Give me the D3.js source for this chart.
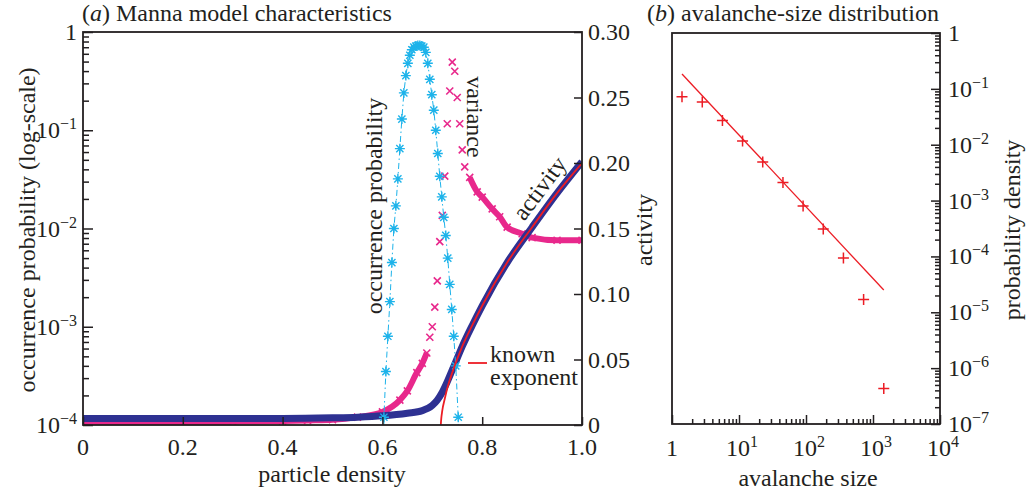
<!DOCTYPE html>
<html>
<head>
<meta charset="utf-8">
<script src="https://cdnjs.cloudflare.com/ajax/libs/d3/7.8.5/d3.min.js"></script>
<style>
  body { margin: 0; background: #fff; }
  svg text { font-family: "Liberation Serif", "DejaVu Serif", serif; font-size: 24px; fill: #231f20; }
  .tick line { stroke: #231f20; stroke-width: 1.5; }
  .frame { fill: none; stroke: #231f20; stroke-width: 1.8; }
</style>
</head>
<body>
<script>
// (a) Manna model: activity + variance on right axis, occurrence probability on log left axis
var activityRho = [0, 0.1, 0.2, 0.3, 0.4, 0.5, 0.55, 0.6, 0.65, 0.68, 0.7, 0.71, 0.72, 0.73, 0.74, 0.75, 0.76, 0.78, 0.8, 0.85, 0.9, 0.95, 1.0];
var activity = [0.005, 0.005, 0.005, 0.005, 0.005, 0.0055, 0.006, 0.007, 0.009, 0.011, 0.015, 0.019, 0.025, 0.033, 0.042, 0.051, 0.060, 0.076, 0.091, 0.124, 0.151, 0.177, 0.201];

var varianceRho = [0, 0.1, 0.2, 0.3, 0.4, 0.45, 0.5, 0.55, 0.6, 0.635, 0.65, 0.669, 0.68, 0.689, 0.695, 0.70, 0.705, 0.71, 0.715, 0.72, 0.725, 0.73, 0.735, 0.74, 0.745, 0.75, 0.755, 0.76, 0.765, 0.775, 0.79, 0.80, 0.82, 0.835, 0.85, 0.88, 0.9, 0.95, 1.0];
var variance = [0.002, 0.002, 0.002, 0.0025, 0.003, 0.0035, 0.004, 0.006, 0.010, 0.019, 0.026, 0.040, 0.047, 0.055, 0.067, 0.075, 0.09, 0.11, 0.14, 0.16, 0.19, 0.23, 0.255, 0.277, 0.27, 0.25, 0.23, 0.21, 0.197, 0.189, 0.178, 0.174, 0.165, 0.159, 0.151, 0.146, 0.143, 0.141, 0.141];

var occurrenceRho = [0.603, 0.607, 0.611, 0.615, 0.619, 0.623, 0.627, 0.631, 0.635, 0.639, 0.643, 0.647, 0.651, 0.655, 0.659, 0.663, 0.667, 0.671, 0.675, 0.679, 0.683, 0.687, 0.691, 0.695, 0.699, 0.703, 0.707, 0.711, 0.715, 0.719, 0.723, 0.727, 0.731, 0.735, 0.739, 0.743, 0.747, 0.752];
var occurrence = [1.2e-4, 3.5e-4, 8e-4, 1.8e-3, 4.5e-3, 0.010, 0.017, 0.032, 0.065, 0.13, 0.24, 0.36, 0.48, 0.58, 0.66, 0.70, 0.72, 0.73, 0.73, 0.72, 0.70, 0.62, 0.48, 0.33, 0.23, 0.16, 0.10, 0.058, 0.034, 0.021, 0.013, 0.0085, 0.0050, 0.0027, 0.0015, 0.0008, 0.0004, 0.00012];

var knownRho = [0.717, 0.718, 0.72, 0.725, 0.73, 0.74, 0.76, 0.78, 0.8, 0.85, 0.9, 0.95, 1.0];
var knownActivity = [0, 0.005, 0.011, 0.020, 0.028, 0.040, 0.060, 0.076, 0.091, 0.124, 0.151, 0.177, 0.200];

var rhoTicks = [0, 0.2, 0.4, 0.6, 0.8, 1.0];
var rhoLabels = ["0", "0.2", "0.4", "0.6", "0.8", "1.0"];
var activityTicks = [0, 0.05, 0.10, 0.15, 0.20, 0.25, 0.30];
var activityLabels = ["0", "0.05", "0.10", "0.15", "0.20", "0.25", "0.30"];

// (b) avalanche-size distribution
var sizes = [1.41, 2.83, 5.66, 11.3, 22.6, 45.3, 90.5, 181, 362, 724, 1448];
var sizeDensity = [0.072, 0.058, 0.027, 0.0117, 0.0049, 0.0021, 8.0e-4, 3.1e-4, 9.4e-5, 1.7e-5, 4.3e-7];
var fitSize = [1.41, 1448];
var fitDensity = [0.185, 2.5e-5];

var navy = "#2e3192", pink = "#e8288c", cyan = "#1db3ea", red = "#ec1c24";

var svg = d3.select("body").append("svg")
  .attr("width", 1029)
  .attr("height", 493)
  .attr("font-family", "'Liberation Serif', 'DejaVu Serif', serif");

var x = d3.scaleLinear().domain([0, 1]).range([83, 582]);
var yLog = d3.scaleLog().domain([1e-4, 1]).range([425, 32]);
var yAct = d3.scaleLinear().domain([0, 0.3]).range([425, 32]);

var xs = d3.scaleLog().domain([1, 1e4]).range([672, 940]);
var ys = d3.scaleLog().domain([1e-7, 1]).range([424, 33]);

function isMajor(d) {
  var l = Math.log10(d);
  return Math.abs(l - Math.round(l)) < 1e-6;
}

// power-of-ten label with superscript
function powLabel(sel, k) {
  if (k === 0) { sel.text("1"); return; }
  sel.append("tspan").text("10");
  sel.append("tspan").attr("font-size", "16px").attr("dy", -9).text(k < 0 ? "\u2212" + (-k) : k);
}

// ---------- panel a ----------
svg.append("clipPath").attr("id", "clipA")
  .append("rect").attr("x", 83).attr("y", 32).attr("width", 499).attr("height", 393);
var plotA = svg.append("g").attr("clip-path", "url(#clipA)");

var pinkPts = varianceRho.map(function(r, i) { return [r, variance[i]]; });
var denseLow = pinkPts.filter(function(p) { return p[0] <= 0.689; });
var denseHigh = pinkPts.filter(function(p) { return p[0] >= 0.775; });
var lineAct = d3.line().x(function(p) { return x(p[0]); }).y(function(p) { return yAct(p[1]); }).curve(d3.curveMonotoneX);

[denseLow, denseHigh].forEach(function(seg) {
  plotA.append("path").attr("d", lineAct(seg))
    .attr("fill", "none").attr("stroke", pink).attr("stroke-width", 6);
});
plotA.selectAll(".vmark").data(pinkPts).enter().append("path")
  .attr("class", "vmark")
  .attr("transform", function(p) { return "translate(" + x(p[0]) + "," + yAct(p[1]) + ")"; })
  .attr("d", "M-3.5,-3.5L3.5,3.5M-3.5,3.5L3.5,-3.5")
  .attr("stroke", pink).attr("stroke-width", 1.6);

// activity band
plotA.append("path")
  .attr("d", lineAct(activityRho.map(function(r, i) { return [r, activity[i]]; })))
  .attr("fill", "none").attr("stroke", navy).attr("stroke-width", 7);

// occurrence probability: dash-dot line + asterisks
var occPts = occurrenceRho.map(function(r, i) { return [r, occurrence[i]]; });
var lineOcc = d3.line().x(function(p) { return x(p[0]); }).y(function(p) { return yLog(p[1]); });
plotA.append("path")
  .attr("d", lineOcc([[occurrenceRho[0], 1e-4]].concat(occPts, [[occurrenceRho[occurrenceRho.length - 1], 1e-4]])))
  .attr("fill", "none").attr("stroke", cyan).attr("stroke-width", 1)
  .attr("stroke-dasharray", "6,3,1.5,3");
plotA.selectAll(".omark").data(occPts).enter().append("path")
  .attr("class", "omark")
  .attr("transform", function(p) { return "translate(" + x(p[0]) + "," + yLog(p[1]) + ")"; })
  .attr("d", "M-5,0L5,0M0,-5L0,5M-3.6,-3.6L3.6,3.6M-3.6,3.6L3.6,-3.6")
  .attr("stroke", cyan).attr("stroke-width", 1.4);

// known exponent curve
plotA.append("path")
  .attr("d", lineAct(knownRho.map(function(r, i) { return [r, knownActivity[i]]; })))
  .attr("fill", "none").attr("stroke", red).attr("stroke-width", 1.8);

svg.append("rect").attr("class", "frame").attr("x", 83).attr("y", 32).attr("width", 499).attr("height", 393);

// left log axis
var gL = svg.append("g").attr("transform", "translate(83,0)")
  .call(d3.axisLeft(yLog).tickValues(yLog.ticks()).tickFormat("").tickSizeOuter(0));
gL.select(".domain").remove();
gL.selectAll(".tick line").attr("x2", function(d) { return isMajor(d) ? 10 : 6; });
[0, -1, -2, -3, -4].forEach(function(k) {
  svg.append("text").attr("x", 77).attr("y", yLog(Math.pow(10, k)) + 8)
    .attr("text-anchor", "end").call(powLabel, k);
});

// right activity axis
var gR = svg.append("g").attr("transform", "translate(582,0)")
  .call(d3.axisRight(yAct).tickValues(activityTicks).tickFormat("").tickSizeOuter(0));
gR.select(".domain").remove();
gR.selectAll(".tick line").attr("x2", -8);
svg.selectAll(".actlab").data(activityTicks).enter().append("text")
  .attr("x", 588).attr("y", function(d) { return yAct(d) + 8; })
  .text(function(d, i) { return activityLabels[i]; });

// bottom axis
var gB = svg.append("g").attr("transform", "translate(0,425)")
  .call(d3.axisBottom(x).tickValues(rhoTicks).tickFormat("").tickSizeOuter(0));
gB.select(".domain").remove();
gB.selectAll(".tick line").attr("y2", -8);
svg.selectAll(".rholab").data(rhoTicks).enter().append("text")
  .attr("x", function(d) { return x(d); }).attr("y", 455)
  .attr("text-anchor", "middle")
  .text(function(d, i) { return rhoLabels[i]; });

// labels inside panel a
svg.append("text").attr("transform", "translate(382,206) rotate(-90)")
  .attr("text-anchor", "middle").text("occurrence probability");
svg.append("text").attr("transform", "translate(467,117) rotate(90)")
  .attr("text-anchor", "middle").text("variance");
svg.append("text").attr("transform", "translate(546,193) rotate(-53)")
  .attr("text-anchor", "middle").text("activity");
svg.append("line").attr("x1", 468).attr("x2", 487).attr("y1", 363).attr("y2", 363)
  .attr("stroke", red).attr("stroke-width", 1.8);
svg.append("text").attr("x", 490).attr("y", 362).text("known");
svg.append("text").attr("x", 490).attr("y", 385).text("exponent");

// axis titles panel a
svg.append("text").attr("transform", "translate(35,230) rotate(-90)")
  .attr("text-anchor", "middle").text("occurrence probability (log-scale)");
svg.append("text").attr("transform", "translate(652,230) rotate(-90)")
  .attr("text-anchor", "middle").text("activity");
svg.append("text").attr("x", 332).attr("y", 482).attr("text-anchor", "middle").text("particle density");
var tA = svg.append("text").attr("x", 82).attr("y", 21);
tA.append("tspan").text("(");
tA.append("tspan").attr("font-style", "italic").text("a");
tA.append("tspan").text(") Manna model characteristics");

// ---------- panel b ----------
svg.append("path")
  .attr("d", d3.line()(fitSize.map(function(s, i) { return [xs(s), ys(fitDensity[i])]; })))
  .attr("fill", "none").attr("stroke", red).attr("stroke-width", 1.3);
svg.selectAll(".smark").data(sizes).enter().append("path")
  .attr("class", "smark")
  .attr("transform", function(d, i) { return "translate(" + xs(d) + "," + ys(sizeDensity[i]) + ")"; })
  .attr("d", "M-5.5,0L5.5,0M0,-5.5L0,5.5")
  .attr("stroke", red).attr("stroke-width", 1.5);

svg.append("rect").attr("class", "frame").attr("x", 672).attr("y", 33).attr("width", 268).attr("height", 391);

var gBx = svg.append("g").attr("transform", "translate(0,424)")
  .call(d3.axisBottom(xs).tickValues(xs.ticks()).tickFormat("").tickSizeOuter(0));
gBx.select(".domain").remove();
gBx.selectAll(".tick line").attr("y2", function(d) { return isMajor(d) ? -9 : -5; });
[0, 1, 2, 3, 4].forEach(function(k) {
  svg.append("text").attr("x", xs(Math.pow(10, k)) + (k ? 3 : 0)).attr("y", 456)
    .attr("text-anchor", "middle").call(powLabel, k);
});

var gBy = svg.append("g").attr("transform", "translate(940,0)")
  .call(d3.axisRight(ys).tickValues(ys.ticks()).tickFormat("").tickSizeOuter(0));
gBy.select(".domain").remove();
gBy.selectAll(".tick line").attr("x2", function(d) { return isMajor(d) ? -9 : -5; });
[0, -1, -2, -3, -4, -5, -6, -7].forEach(function(k) {
  svg.append("text").attr("x", 948).attr("y", ys(Math.pow(10, k)) + 8).call(powLabel, k);
});

svg.append("text").attr("x", 808).attr("y", 486).attr("text-anchor", "middle").text("avalanche size");
svg.append("text").attr("transform", "translate(1020,230) rotate(-90)")
  .attr("text-anchor", "middle").text("probability density");
var tB = svg.append("text").attr("x", 647).attr("y", 21);
tB.append("tspan").text("(");
tB.append("tspan").attr("font-style", "italic").text("b");
tB.append("tspan").text(") avalanche-size distribution");
</script>
</body>
</html>
